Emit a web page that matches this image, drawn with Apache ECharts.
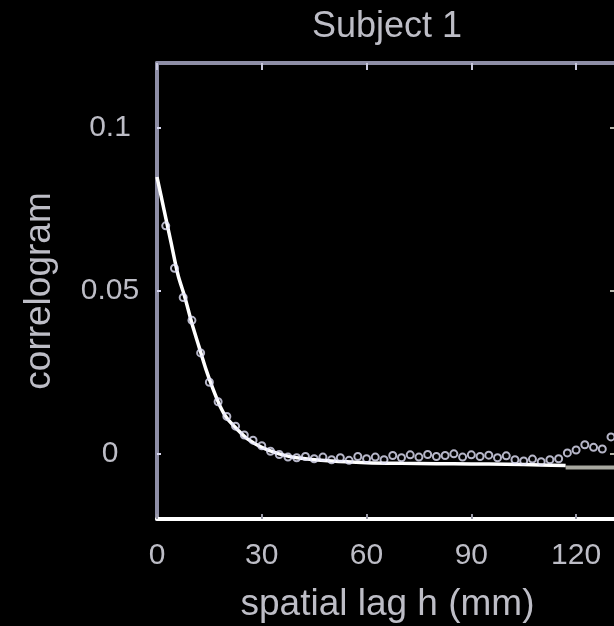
<!DOCTYPE html>
<html>
<head>
<meta charset="utf-8">
<script src="https://cdn.jsdelivr.net/npm/echarts@6/dist/echarts.min.js"></script>
<style>
html,body{margin:0;padding:0;background:#000;}
#c{width:614px;height:626px;}
</style>
</head>
<body>
<div id="c"></div>
<script>
// Title and axis texts
const titleText = "Subject 1";
const xName = "spatial lag h (mm)";
const yName = "correlogram";
const xTicks = [0, 30, 60, 90, 120];
const yTicks = [0, 0.05, 0.1];

// Fitted model curve (lag mm, value)
const fitLag = [0, 2, 4, 6, 8, 10, 12, 14, 16, 18, 20, 23, 26, 30, 35, 40, 50, 60, 70, 80, 90, 100, 110, 117];
const fitVal = [0.085, 0.075, 0.065, 0.055, 0.048, 0.040, 0.033, 0.026, 0.020, 0.0148, 0.011, 0.0075, 0.0045, 0.002, 0.0, -0.0012, -0.0022, -0.0027, -0.0029, -0.0030, -0.0031, -0.0032, -0.0034, -0.0036];

// Grey tail of the curve
const tailLag = [117, 132];
const tailVal = [-0.0042, -0.0042];

// Empirical correlogram points
const empLag = [2.5, 5, 7.5, 10, 12.5, 15, 17.5, 20, 22.5, 25, 27.5, 30, 32.5, 35, 37.5, 40, 42.5, 45, 47.5, 50, 52.5, 55, 57.5, 60, 62.5, 65, 67.5, 70, 72.5, 75, 77.5, 80, 82.5, 85, 87.5, 90, 92.5, 95, 97.5, 100, 102.5, 105, 107.5, 110, 112.5, 115, 117.5, 120, 122.5, 125, 127.5, 130];
const empVal = [0.070, 0.057, 0.048, 0.041, 0.031, 0.022, 0.016, 0.0115, 0.0085, 0.0058, 0.0042, 0.0025, 0.0008, -0.0002, -0.0010, -0.0012, -0.0008, -0.0015, -0.0010, -0.0018, -0.0012, -0.0020, -0.0008, -0.0015, -0.0010, -0.0018, -0.0005, -0.0012, -0.0003, -0.0010, -0.0002, -0.0008, -0.0005, 0.0000, -0.0010, -0.0003, -0.0008, -0.0004, -0.0012, -0.0006, -0.0018, -0.0022, -0.0016, -0.0024, -0.0018, -0.0015, 0.0003, 0.0012, 0.0028, 0.0020, 0.0015, 0.0052];

const txt = '#bdbdc6';
const frame = '#8e8ea6';
const font = '"Liberation Sans", Arial, sans-serif';

const chart = echarts.init(document.getElementById('c'), null, {renderer: 'canvas'});
chart.setOption({
  backgroundColor: '#000',
  animation: false,
  title: {
    text: titleText, left: 387, textAlign: 'center', top: 9, padding: 0,
    textStyle: {color: txt, fontSize: 36, fontWeight: 'normal', fontFamily: font}
  },
  grid: {left: 157, width: 461, top: 63, bottom: 107, containLabel: false, outerBoundsMode: 'none'},
  xAxis: [{
    type: 'value', position: 'bottom', min: 0, max: 132, interval: 30,
    name: xName, nameLocation: 'middle', nameGap: 67,
    nameTextStyle: {color: txt, fontSize: 37, fontFamily: font, padding: [0, 0, 0, 0]},
    axisLine: {show: true, onZero: false, lineStyle: {color: '#ffffff', width: 4}},
    axisTick: {show: true, inside: true, length: 5, lineStyle: {color: '#9a9aa8', width: 2}},
    axisLabel: {color: txt, fontSize: 30, fontFamily: font, margin: 22, showMaxLabel: false},
    splitLine: {show: false}
  }, {
    type: 'value', position: 'top', min: 0, max: 132, interval: 30,
    axisLine: {show: true, onZero: false, lineStyle: {color: frame, width: 4}},
    axisTick: {show: true, inside: true, length: 7, lineStyle: {color: '#c8c8dc', width: 2}},
    axisLabel: {show: false},
    splitLine: {show: false}
  }],
  yAxis: [{
    type: 'value', position: 'left', min: -0.02, max: 0.12,
    name: yName, nameLocation: 'middle', nameGap: 99, nameRotate: 90,
    nameTextStyle: {color: txt, fontSize: 37, fontFamily: font},
    axisLine: {show: true, onZero: false, lineStyle: {color: frame, width: 4}},
    axisTick: {show: true, inside: true, length: 4, customValues: yTicks, lineStyle: {color: '#d8d8f0', width: 2}},
    axisLabel: {color: txt, fontSize: 30, fontFamily: font, margin: 47, align: 'center', customValues: yTicks},
    splitLine: {show: false}
  }, {
    type: 'value', position: 'right', min: -0.02, max: 0.12,
    axisLine: {show: true, onZero: false, lineStyle: {color: frame, width: 4}},
    axisTick: {show: true, inside: true, length: 8, customValues: yTicks, lineStyle: {color: '#b4b4a8', width: 2}},
    axisLabel: {show: false},
    splitLine: {show: false}
  }],
  series: [{
    type: 'line', xAxisIndex: 0, yAxisIndex: 0,
    data: tailLag.map((h, i) => [h, tailVal[i]]),
    showSymbol: false, symbol: 'none',
    lineStyle: {color: '#a8a8a0', width: 4}, z: 2
  }, {
    type: 'line', xAxisIndex: 0, yAxisIndex: 0,
    data: fitLag.map((h, i) => [h, fitVal[i]]),
    smooth: 0.3, showSymbol: false, symbol: 'none',
    lineStyle: {color: '#ffffff', width: 3.5}, z: 3
  }, {
    type: 'scatter', xAxisIndex: 0, yAxisIndex: 0,
    data: empLag.map((h, i) => [h, empVal[i]]),
    symbol: 'circle', symbolSize: 7,
    itemStyle: {color: 'rgba(0,0,0,0)', borderColor: '#e4e4fa', borderWidth: 2},
    z: 4
  }]
});
</script>
</body>
</html>
